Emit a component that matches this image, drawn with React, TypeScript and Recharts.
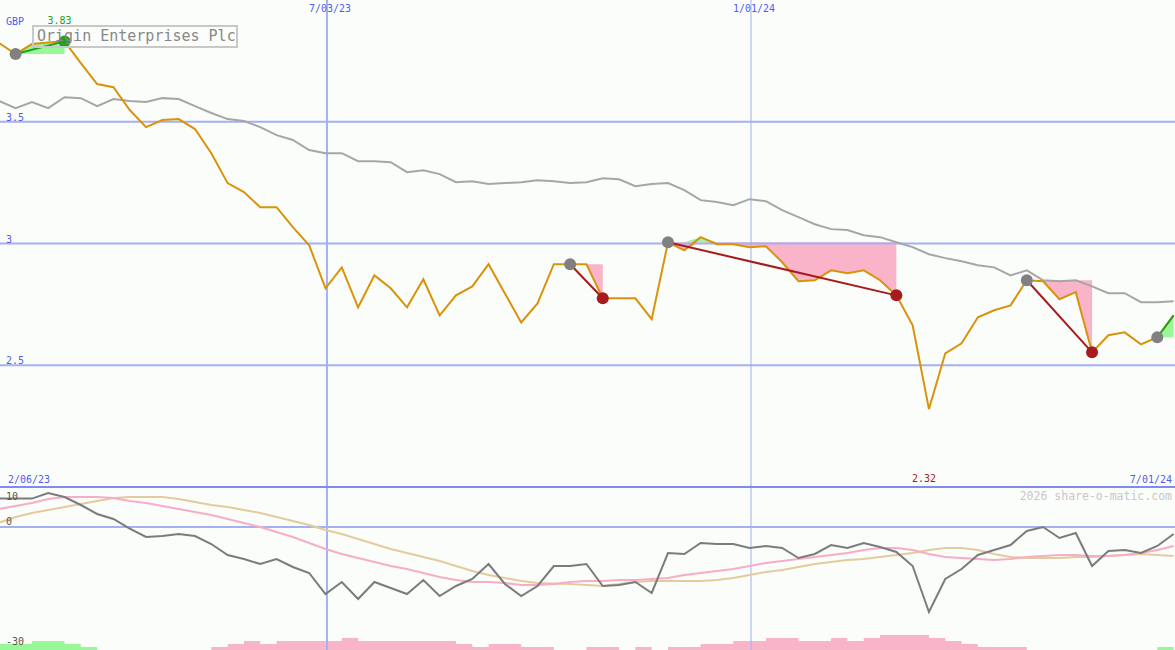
import React from 'react';
import { ComposedChart, Line, Area, XAxis, YAxis, ReferenceLine, ReferenceDot } from 'recharts';

// weekly series, the first value sits one week before the first swing point
const firstWeek = -1;

const closes = [
  3.823, 3.778, 3.819, 3.825, 3.83, 3.741, 3.655, 3.642, 3.548, 3.478,
  3.507, 3.511, 3.47, 3.371, 3.248, 3.211, 3.149, 3.149, 3.067, 2.993,
  2.816, 2.902, 2.738, 2.869, 2.816, 2.738, 2.853, 2.705, 2.787, 2.824,
  2.915, 2.795, 2.676, 2.754, 2.915, 2.915, 2.915, 2.775, 2.775, 2.775,
  2.689, 3.005, 2.972, 3.026, 2.997, 2.997, 2.985, 2.989, 2.923, 2.845,
  2.849, 2.89, 2.878, 2.89, 2.849, 2.787, 2.664, 2.32, 2.549, 2.59,
  2.697, 2.726, 2.746, 2.849, 2.845, 2.771, 2.8, 2.553, 2.623, 2.635,
  2.586, 2.615, 2.705,
];

const movingAvg = [
  3.585, 3.556, 3.581, 3.556, 3.601, 3.597, 3.564, 3.593, 3.585, 3.581,
  3.597, 3.593, 3.564, 3.536, 3.511, 3.503, 3.478, 3.445, 3.425, 3.384,
  3.371, 3.371, 3.338, 3.338, 3.334, 3.293, 3.301, 3.285, 3.252, 3.256,
  3.244, 3.248, 3.252, 3.26, 3.256, 3.248, 3.252, 3.268, 3.264, 3.235,
  3.244, 3.248, 3.219, 3.178, 3.17, 3.157, 3.182, 3.174, 3.137, 3.108,
  3.079, 3.059, 3.055, 3.034, 3.026, 3.005, 2.985, 2.956, 2.94, 2.927,
  2.911, 2.902, 2.869, 2.89, 2.849, 2.845, 2.849, 2.824, 2.796, 2.796,
  2.759, 2.759, 2.763,
];

const momentum = [
  7.1, 7.1, 7.1, 8.5, 7.5, 5.5, 3.25, 2.0, -0.4, -2.5,
  -2.25, -1.75, -2.25, -4.25, -7.0, -8.0, -9.25, -8.0, -10.0, -11.5,
  -16.75, -13.75, -18.0, -13.75, -15.25, -16.75, -13.25, -17.25, -14.75, -13.0,
  -9.25, -14.25, -17.25, -14.75, -9.75, -9.75, -9.25, -14.75, -14.5, -13.75,
  -16.5, -6.5, -6.75, -4.0, -4.25, -4.25, -5.25, -4.75, -5.25, -7.75,
  -6.75, -4.5, -5.25, -4.0, -5.0, -6.25, -9.75, -21.25, -13.0, -10.5,
  -7.0, -5.75, -4.5, -1.0, 0, -2.75, -1.5, -9.75, -6.0, -5.75,
  -6.5, -4.75, -1.75,
];

const signalLine = [
  4.5, 5.25, 6, 7, 7.5, 7.5, 7.5, 7.25, 6.5, 6,
  5.25, 4.5, 3.75, 3, 2, 1, 0, -1.25, -2.5, -4,
  -5.5, -6.75, -7.75, -8.75, -9.75, -10.5, -11.5, -12.5, -13.25, -13.75,
  -13.75, -14, -14.5, -14.5, -14.25, -13.75, -13.5, -13.5, -13.25, -13.25,
  -13, -12.75, -12, -11.5, -11, -10.5, -9.75, -9, -8.5, -8,
  -7.5, -7, -6.5, -5.75, -5.25, -5.25, -5.75, -6.75, -7.5, -7.75,
  -8, -8.25, -8, -7.5, -7.25, -7, -7, -7.25, -7.25, -7,
  -6.5, -5.75, -4.75,
];

const trendLine = [
  1.1, 2.5, 3.5, 4.25, 5, 5.75, 6.5, 7.25, 7.5, 7.5,
  7.5, 7, 6.25, 5.5, 5, 4.25, 3.5, 2.5, 1.5, 0.5,
  -0.75, -1.75, -3, -4.25, -5.5, -6.5, -7.5, -8.5, -9.75, -11,
  -12, -12.75, -13.5, -14, -14.1, -14.25, -14.5, -14.75, -14.25, -13.75,
  -13.5, -13.5, -13.5, -13.5, -13.25, -12.75, -12, -11.25, -10.75, -10,
  -9.25, -8.75, -8.25, -8, -7.5, -7, -6.5, -5.75, -5.25, -5.25,
  -5.75, -6.75, -7.5, -7.75, -7.75, -7.75, -7.5, -7.5, -7.25, -7,
  -6.75, -7, -7.25,
];

// positive = up weeks (green), negative = down weeks (pink)
const histogram = [
  2, 2, 3, 3, 2, 1, 0, 0, 0, 0,
  0, 0, 0, -1, -2, -3, -2, -3, -3, -3,
  -3, -4, -3, -3, -3, -3, -3, -3, -2, -1,
  -2, -2, -1, -1, 0, 0, -1, -1, 0, -1,
  0, -1, -1, -2, -2, -3, -3, -4, -4, -3,
  -3, -4, -3, -4, -5, -5, -5, -4, -3, -2,
  -1, -1, -1, 0, 0, 0, 0, 0, 0, 0,
  0, 1, 1,
];

// swing legs as [start week, end week]
const swings: [number, number][] = [[0, 3], [34, 36], [40, 54], [62, 66], [70, 71]];

const dateLabels = ['7/03/23', '1/01/24'];
const dateWeeks = [19.09, 45.09];
const startDate = '2/06/23';
const endDate = '7/01/24';
const priceTicks = [2.5, 3, 3.5];
const oscTicks = [10, 0, -30];

const weekDomain = [-0.956, 71.085];
const W = 1175;
const TOP_H = 487;
const LOW_TOP = 485;
const LOW_H = 165;

const MONO = '"DejaVu Sans Mono", "Liberation Mono", monospace';
const BG = '#fbfdfb';
const GRID = '#a3b1f3';
const BORDER = '#7d8cee';
const BLUE_TEXT = '#4e5ef0';
const ORANGE = '#d9930a';
const AVG = '#a6a6a6';
const PINK_FILL = '#f9b4ca';
const GREEN_FILL = '#98f898';
const UP = '#22a022';
const DOWN = '#a61c1c';
const START_DOT = '#808080';

const lastWeek = closes.length - 1 + firstWeek;
const closeAt = (w: number) => closes[w - firstWeek];

const rows = closes.map((close, k) => {
  const week = k + firstWeek;
  const row: any = {
    week,
    close,
    avg: movingAvg[k],
    mom: momentum[k],
    sig: signalLine[k],
    trd: trendLine[k],
    up: Math.max(histogram[k], 0),
    down: Math.max(-histogram[k], 0),
  };
  swings.forEach(([a, b], s) => {
    if (week < a || week > b) return;
    const level = closeAt(a);
    row.fall = [Math.min(close, level), level];
    row.rise = [level, Math.max(close, level)];
    if (week === a || week === b) row[`leg${s}`] = close;
  });
  return row;
});

let maxK = 0;
let minK = 0;
closes.forEach((c, k) => {
  if (c > closes[maxK]) maxK = k;
  if (c < closes[minK]) minK = k;
});

const legDot = (a: number, b: number) => (p: any) => {
  const key = `dot-${a}-${p.index}`;
  if (p.cy == null || p.cx == null || !p.payload) return <g key={key} />;
  const w = p.payload.week;
  if (w === a) return <circle key={key} cx={p.cx} cy={p.cy} r={6} fill={START_DOT} />;
  if (w === b && b !== lastWeek) {
    const fill = closeAt(b) > closeAt(a) ? UP : DOWN;
    return <circle key={key} cx={p.cx} cy={p.cy} r={6} fill={fill} />;
  }
  return <g key={key} />;
};

const PriceTick = (p: any) => (
  <text x={6} y={p.y - 1} fill={BLUE_TEXT} fontSize={10} fontFamily={MONO}>
    {p.payload.value}
  </text>
);

const OscTick = (p: any) => (
  <text x={6} y={Math.max(p.y - 2, 15)} fill="#555" fontSize={10} fontFamily={MONO}>
    {p.payload.value}
  </text>
);

const dateTag = (text: string) => (p: any) => {
  const vb = p.viewBox || {};
  return (
    <text x={vb.x + 3} y={(vb.y || 0) + 12} textAnchor="middle" fill={BLUE_TEXT} fontSize={10} fontFamily={MONO}>
      {text}
    </text>
  );
};

const peakTag = (p: any) => {
  const vb = p.viewBox || {};
  return (
    <text x={vb.x - 4} y={vb.y - 16} textAnchor="middle" fill={UP} fontSize={10} fontFamily={MONO}>
      {closes[maxK].toFixed(2)}
    </text>
  );
};

const lowTag = (p: any) => {
  const vb = p.viewBox || {};
  return (
    <text x={vb.x - 4} y={vb.y - 4} textAnchor="middle" fill={DOWN} fontSize={10} fontFamily={MONO}>
      {closes[minK].toFixed(2)}
    </text>
  );
};

const margin = { top: 0, right: 0, bottom: 0, left: 0 };

export default function App() {
  return (
    <div style={{ position: 'relative', width: W, height: 650, background: BG, overflow: 'hidden' }}>
      <style>{'body{margin:0}'}</style>
      <div style={{ position: 'absolute', left: 0, top: 0 }}>
        <ComposedChart width={W} height={TOP_H} data={rows} margin={margin}>
          <XAxis dataKey="week" type="number" domain={weekDomain} allowDataOverflow hide />
          <YAxis
            type="number"
            domain={[2, 4]}
            allowDataOverflow
            ticks={priceTicks}
            interval={0}
            mirror
            axisLine={false}
            tickLine={false}
            tick={PriceTick}
          />
          {priceTicks.map((v) => (
            <ReferenceLine key={`g${v}`} y={v} stroke={GRID} strokeWidth={2} />
          ))}
          {dateWeeks.map((w, k) => (
            <ReferenceLine key={`d${k}`} x={w} stroke={GRID} strokeWidth={k === 0 ? 2 : 1} label={dateTag(dateLabels[k])} />
          ))}
          <Area dataKey="fall" stroke="none" fill={PINK_FILL} fillOpacity={1} activeDot={false} isAnimationActive={false} />
          <Area dataKey="rise" stroke="none" fill={GREEN_FILL} fillOpacity={1} activeDot={false} isAnimationActive={false} />
          <Line dataKey="avg" stroke={AVG} strokeWidth={2} dot={false} activeDot={false} isAnimationActive={false} />
          <Line dataKey="close" stroke={ORANGE} strokeWidth={2} dot={false} activeDot={false} isAnimationActive={false} />
          {swings.map(([a, b], s) => (
            <Line
              key={`leg${s}`}
              dataKey={`leg${s}`}
              connectNulls
              stroke={closeAt(b) > closeAt(a) ? UP : DOWN}
              strokeWidth={2}
              dot={legDot(a, b)}
              activeDot={false}
              isAnimationActive={false}
            />
          ))}
          <ReferenceDot x={maxK + firstWeek} y={closes[maxK]} r={1} fill="none" stroke="none" label={peakTag} />
          <ReferenceDot x={minK + firstWeek} y={2} r={1} fill="none" stroke="none" label={lowTag} />
        </ComposedChart>
      </div>

      <div style={{ position: 'absolute', left: 0, top: LOW_TOP }}>
        <ComposedChart width={W} height={LOW_H} data={rows} margin={margin}>
          <XAxis dataKey="week" type="number" domain={weekDomain} allowDataOverflow hide />
          <YAxis
            type="number"
            domain={[-30.75, 10.5]}
            allowDataOverflow
            ticks={oscTicks}
            interval={0}
            mirror
            axisLine={false}
            tickLine={false}
            tick={OscTick}
          />
          <YAxis yAxisId="hist" type="number" domain={[0, 55]} allowDataOverflow hide />
          {dateWeeks.map((w, k) => (
            <ReferenceLine key={`ld${k}`} x={w} stroke={GRID} strokeWidth={k === 0 ? 2 : 1} />
          ))}
          <ReferenceLine y={10} stroke={BORDER} strokeWidth={2} />
          <ReferenceLine y={0} stroke={GRID} strokeWidth={2} />
          <Area yAxisId="hist" type="stepAfter" dataKey="up" stroke="none" fill={GREEN_FILL} fillOpacity={1} activeDot={false} isAnimationActive={false} />
          <Area yAxisId="hist" type="stepAfter" dataKey="down" stroke="none" fill={PINK_FILL} fillOpacity={1} activeDot={false} isAnimationActive={false} />
          <Line dataKey="trd" stroke="#e3cc9c" strokeWidth={2} dot={false} activeDot={false} isAnimationActive={false} />
          <Line dataKey="sig" stroke="#f7adc6" strokeWidth={2} dot={false} activeDot={false} isAnimationActive={false} />
          <Line dataKey="mom" stroke="#7b7b7b" strokeWidth={2} dot={false} activeDot={false} isAnimationActive={false} />
        </ComposedChart>
      </div>

      <svg width={W} height={650} style={{ position: 'absolute', left: 0, top: 0, pointerEvents: 'none' }}>
        <text x={6} y={25} fill={BLUE_TEXT} fontSize={10} fontFamily={MONO}>GBP</text>
        <rect x={33} y={26} width={204} height={21} fill="none" stroke="#c8c8c8" strokeWidth={2} />
        <text x={37} y={41} fill="#888" fontSize={15} fontFamily={MONO}>Origin Enterprises Plc</text>
        <text x={8} y={483} fill={BLUE_TEXT} fontSize={10} fontFamily={MONO}>{startDate}</text>
        <text x={1172} y={483} textAnchor="end" fill={BLUE_TEXT} fontSize={10} fontFamily={MONO}>{endDate}</text>
        <text x={1172} y={500} textAnchor="end" fill="#c8c8c8" fontSize={11.5} fontFamily={MONO}>2026 share-o-matic.com</text>
      </svg>
    </div>
  );
}
